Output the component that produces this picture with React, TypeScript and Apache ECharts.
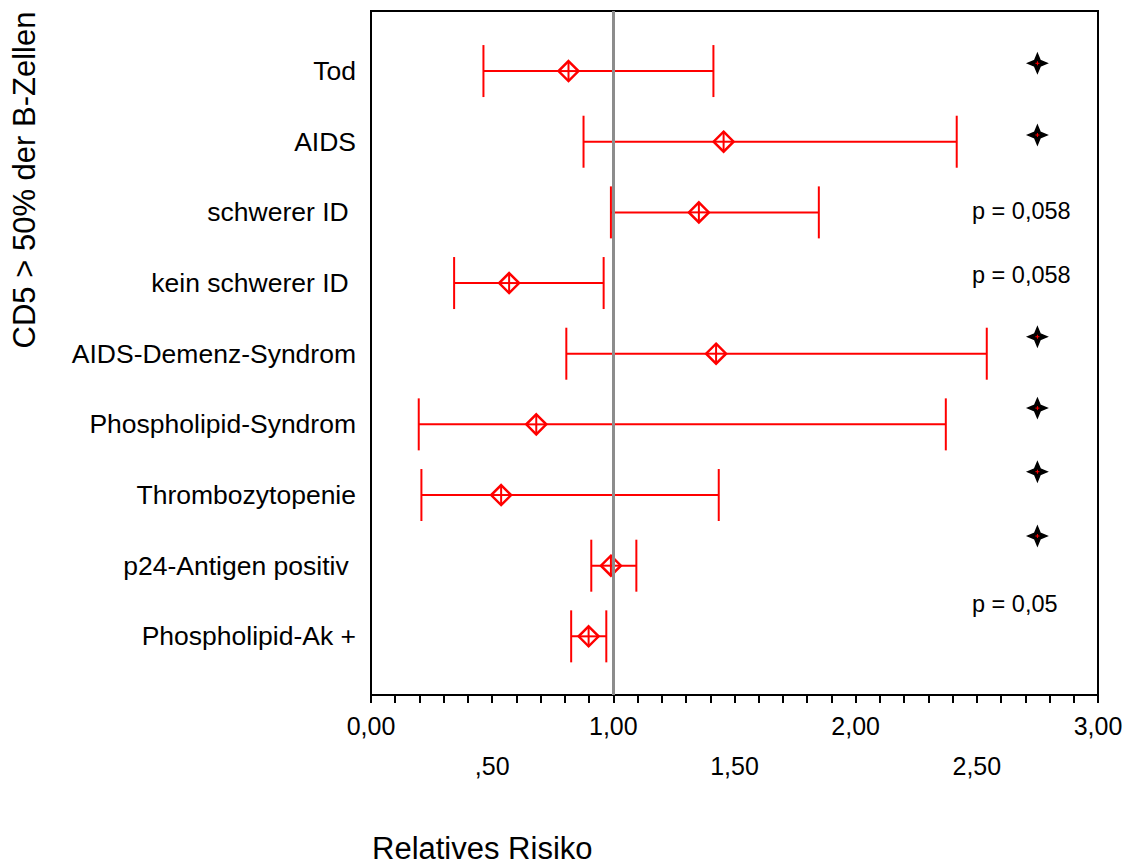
import React, { useEffect, useRef } from "react";
import * as echarts from "echarts";

const categories = [
  "Tod",
  "AIDS",
  "schwerer ID ",
  "kein schwerer ID ",
  "AIDS-Demenz-Syndrom",
  "Phospholipid-Syndrom",
  "Thrombozytopenie",
  "p24-Antigen positiv ",
  "Phospholipid-Ak +",
];
const lowerCI = [0.464, 0.877, 0.99, 0.343, 0.806, 0.197, 0.208, 0.909, 0.826];
const estimate = [0.815, 1.455, 1.353, 0.57, 1.424, 0.682, 0.537, 0.99, 0.898];
const upperCI = [1.413, 2.417, 1.848, 0.96, 2.541, 2.372, 1.435, 1.095, 0.971];

const starX = [2.75, 2.75, 2.75, 2.75, 2.75, 2.75];
const starY = [-0.11, 0.905, 3.76, 4.77, 5.67, 6.58];

const pLabels = ["p = 0,058", "p = 0,058", "p = 0,05"];
const pX = [2.48, 2.48, 2.48];
const pY = [1.98, 2.886, 7.54];

const majorTickValues = [0, 1, 2, 3];
const majorTickLabels = ["0,00", "1,00", "2,00", "3,00"];
const halfTickValues = [0.5, 1.5, 2.5];
const halfTickLabels = [",50", "1,50", "2,50"];

const referenceValue = 1;

const RED = "#ff0000";
const FONT = "'Liberation Sans', Arial, sans-serif";

function findLabel(v: number, vals: number[], labels: string[]) {
  for (let i = 0; i < vals.length; i++) {
    if (Math.abs(v - vals[i]) < 1e-6) return labels[i];
  }
  return "";
}

export default function App() {
  const ref = useRef<HTMLDivElement>(null);
  useEffect(() => {
    if (!ref.current) return;
    const chart = echarts.init(ref.current, null, { renderer: "svg" });
    const barData = categories.map((_, i) => [lowerCI[i], upperCI[i], estimate[i], i]);
    const starData = starX.map((x, i) => [x, starY[i]]);
    const pData = pX.map((x, i) => [x, pY[i]]);

    const option: any = {
      animation: false,
      backgroundColor: "#fff",
      textStyle: { fontFamily: FONT },
      grid: {
        left: 371,
        top: 11,
        right: 35,
        bottom: 171,
        show: true,
        borderColor: "#000",
        borderWidth: 2,
        backgroundColor: "transparent",
      },
      title: {
        text: "Relatives Risiko",
        left: 372,
        top: 833,
        padding: 0,
        textStyle: { fontFamily: FONT, fontSize: 31, fontWeight: "normal", color: "#000" },
      },
      graphic: [
        {
          type: "text",
          x: 24,
          y: 180,
          rotation: Math.PI / 2,
          style: {
            text: "CD5 > 50% der B-Zellen",
            fontFamily: FONT,
            fontSize: 31,
            fill: "#000",
            align: "center",
            verticalAlign: "middle",
          },
        },
      ],
      xAxis: [
        {
          type: "value",
          min: 0,
          max: 3,
          interval: 0.1,
          position: "bottom",
          axisLine: { show: true, onZero: false, lineStyle: { color: "#000", width: 2 } },
          axisTick: { show: true, inside: false, length: 8, lineStyle: { color: "#000", width: 2 } },
          splitLine: { show: false },
          axisLabel: {
            margin: 18,
            fontSize: 25,
            color: "#000",
            fontFamily: FONT,
            formatter: (v: number) => findLabel(v, majorTickValues, majorTickLabels),
          },
        },
        {
          type: "value",
          min: 0,
          max: 3,
          interval: 0.5,
          position: "bottom",
          axisLine: { show: false, onZero: false },
          axisTick: { show: false },
          splitLine: { show: false },
          axisLabel: {
            margin: 58,
            fontSize: 25,
            color: "#000",
            fontFamily: FONT,
            formatter: (v: number) => findLabel(v, halfTickValues, halfTickLabels),
          },
        },
      ],
      yAxis: {
        type: "value",
        inverse: true,
        min: -0.85,
        max: 8.83,
        axisLine: { show: true, onZero: false, lineStyle: { color: "#000", width: 2 } },
        axisTick: { show: false },
        splitLine: { show: false },
        axisLabel: {
          customValues: categories.map((_, i) => i),
          margin: 15,
          fontSize: 26.5,
          color: "#000",
          fontFamily: FONT,
          formatter: (v: number) => categories[Math.round(v)] ?? "",
        },
      },
      series: [
        {
          type: "custom",
          xAxisIndex: 0,
          data: barData,
          z: 2,
          renderItem: (params: any, api: any) => {
            const yv = api.value(3);
            const pLo = api.coord([api.value(0), yv]);
            const pHi = api.coord([api.value(1), yv]);
            const pE = api.coord([api.value(2), yv]);
            const y = pLo[1];
            const cap = 26;
            const d = 10;
            const st = { stroke: RED, lineWidth: 2, fill: "none" };
            return {
              type: "group",
              children: [
                { type: "line", shape: { x1: pLo[0], y1: y, x2: pHi[0], y2: y }, style: st },
                { type: "line", shape: { x1: pLo[0], y1: y - cap, x2: pLo[0], y2: y + cap }, style: st },
                { type: "line", shape: { x1: pHi[0], y1: y - cap, x2: pHi[0], y2: y + cap }, style: st },
                {
                  type: "polygon",
                  shape: { points: [[pE[0], y - d], [pE[0] + d, y], [pE[0], y + d], [pE[0] - d, y]] },
                  style: { stroke: RED, lineWidth: 2.5, fill: "#fff" },
                },
                { type: "line", shape: { x1: pE[0] - d, y1: y, x2: pE[0] + d, y2: y }, style: st },
                { type: "line", shape: { x1: pE[0], y1: y - d, x2: pE[0], y2: y + d }, style: st },
              ],
            };
          },
        },
        {
          type: "custom",
          xAxisIndex: 0,
          data: starData,
          z: 3,
          renderItem: (params: any, api: any) => {
            const p = api.coord([api.value(0), api.value(1)]);
            const R = 9.5;
            const r = 2.8;
            const pts = [
              [p[0], p[1] - R],
              [p[0] + r, p[1] - r],
              [p[0] + R, p[1]],
              [p[0] + r, p[1] + r],
              [p[0], p[1] + R],
              [p[0] - r, p[1] + r],
              [p[0] - R, p[1]],
              [p[0] - r, p[1] - r],
            ];
            return {
              type: "group",
              children: [
                { type: "polygon", shape: { points: pts }, style: { fill: "#000", stroke: "#000", lineWidth: 1.5 } },
                { type: "line", shape: { x1: p[0] - 2, y1: p[1], x2: p[0] + 2, y2: p[1] }, style: { stroke: RED, lineWidth: 1 } },
                { type: "line", shape: { x1: p[0], y1: p[1] - 2, x2: p[0], y2: p[1] + 2 }, style: { stroke: RED, lineWidth: 1 } },
              ],
            };
          },
        },
        {
          type: "custom",
          xAxisIndex: 0,
          data: pData,
          z: 3,
          renderItem: (params: any, api: any) => {
            const p = api.coord([api.value(0), api.value(1)]);
            return {
              type: "text",
              x: p[0],
              y: p[1],
              style: {
                text: pLabels[params.dataIndex],
                fontFamily: FONT,
                fontSize: 23.5,
                fill: "#000",
                align: "left",
                verticalAlign: "middle",
              },
            };
          },
        },
        {
          type: "line",
          xAxisIndex: 0,
          data: [],
          z: 5,
          markLine: {
            silent: true,
            symbol: ["none", "none"],
            label: { show: false },
            lineStyle: { color: "#8c8c8c", width: 3, type: "solid" },
            data: [{ xAxis: referenceValue }],
          },
        },
      ],
    };
    chart.setOption(option);
    return () => chart.dispose();
  }, []);
  return <div ref={ref} style={{ width: 1133, height: 866, position: "absolute", left: 0, top: 0 }} />;
}
